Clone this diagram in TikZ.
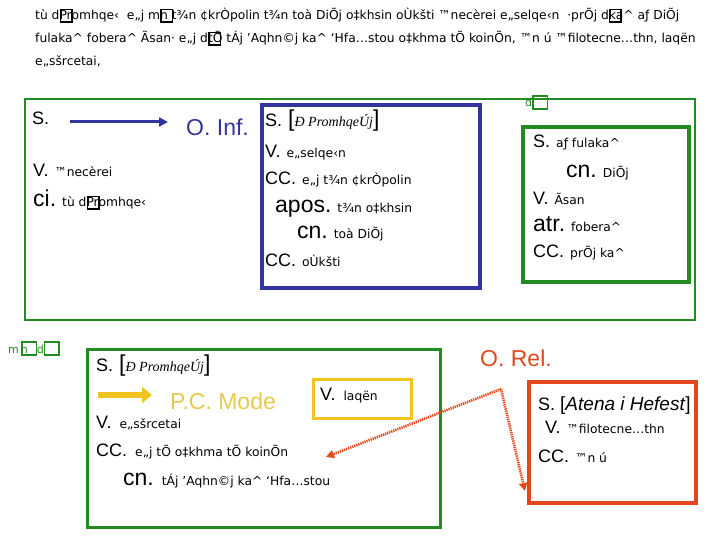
\documentclass[tikz,border=0pt]{standalone}
\usepackage{fontspec}
\setmainfont{DejaVu Sans}
\newfontfamily\labfont{Liberation Sans}
\newfontfamily\gkitfont{Liberation Serif}
\usetikzlibrary{arrows.meta}
\definecolor{grn}{HTML}{228B22}
\definecolor{blu}{HTML}{3434A0}
\definecolor{yel}{HTML}{F2C420}
\definecolor{yeltxt}{HTML}{E8C84A}
\definecolor{org}{HTML}{E2481C}
\newcommand\mylabA[1]{{\labfont\fontsize{18}{20}\selectfont #1}}
\newcommand\mylabB[1]{{\labfont\fontsize{23}{25}\selectfont #1}}
\newcommand\mygk[1]{{\fontsize{12.3}{14}\selectfont #1}}
\newcommand\mygkit[1]{{\gkitfont\itshape\fontsize{14}{15}\selectfont #1}}
\newcommand\ca{\textasciicircum}
\newcommand\tofu{\rlap{\raisebox{-1.5pt}{\setlength\fboxsep{0pt}\setlength\fboxrule{1.5pt}\fbox{\rule{0pt}{11pt}\hspace{10pt}}}}}
\newcommand\tofuB{\rlap{\raisebox{-1pt}{\setlength\fboxsep{0pt}\setlength\fboxrule{1.6pt}\fbox{\rule{0pt}{11pt}\hspace{13pt}}}}}
\tikzset{
  txt/.style={anchor=base west, inner sep=0pt, font=\fontsize{12.3}{14}\selectfont},
  box/.style={line width=#1},
}
\begin{document}
\begin{tikzpicture}[x=1pt,y=-1pt]
\useasboundingbox (0,0) rectangle (720,540);
% title
\node[txt] (t1) at (35,20) {tù d\tofu Promhqe‹\ \ e„j m\tofu n t¾n ¢krÒpolin t¾n toà DiÕj o‡khsin oÙkšti ™necèrei e„selqe‹n\ \ ·prÕj d\tofu ka\ca{}\ aƒ DiÕj};
\node[txt] (t2) at (35,43) {fulaka\ca{} fobera\ca{} Ãsan· e„j d\tofu tÕ tÁj 'Aqhn©j ka\ca{} `Hfa…stou o‡khma tÕ koinÕn, ™n ú ™filotecne…thn, laqën};
\node[txt] (t3) at (35,66) {e„sšrcetai,};

% big green box
\draw[grn, box=2.6pt] (25,99) rectangle (695,320);
\node[txt, text=grn, font=\fontsize{11}{12}\selectfont] (lbd) at (525,107) {d\tofuB};
\node[txt] (s1) at (32,125) {\mylabA{S.}};
\coordinate (a1s) at (70,122);
\coordinate (a1e) at (168,122);
\draw[blu, line width=3pt, -{Triangle[length=9pt,width=9pt]}] (a1s) -- (a1e);
\node[txt, text=blu] (oinf) at (186,136) {\mylabB{O. Inf.}};
\node[txt] (v1) at (33,177) {\mylabA{V.}\hspace{6pt}\mygk{™necèrei}};
\node[txt] (ci1) at (33,207) {\mylabB{ci.}\hspace{6pt}\mygk{tù d\tofu Promhqe‹}};

% blue box
\draw[blu, box=3.5pt] (262,105) rectangle (480,288);
\node[txt] (bs) at (265,127) {\mylabA{S.}\hspace{6pt}\mylabB{[}\mygkit{Ð PromhqeÚj}\mylabB{]}};
\node[txt] (bv) at (265,158) {\mylabA{V.}\hspace{6pt}\mygk{e„selqe‹n}};
\node[txt] (bcc) at (265,185) {\mylabA{CC.}\hspace{6pt}\mygk{e„j t¾n ¢krÒpolin}};
\node[txt] (bap) at (275,212) {\mylabB{apos.}\hspace{6pt}\mygk{t¾n o‡khsin}};
\node[txt] (bcn) at (297,238) {\mylabB{cn.}\hspace{6pt}\mygk{toà DiÕj}};
\node[txt] (bcc2) at (265,266) {\mylabA{CC.}\hspace{6pt}\mygk{oÙkšti}};

% inner green box (right)
\draw[grn, box=4pt] (523,127) rectangle (689,282);
\node[txt] (gs) at (533,148) {\mylabA{S.}\hspace{6pt}\mygk{aƒ fulaka\ca{}}};
\node[txt] (gcn) at (566,178) {\mylabB{cn.}\hspace{6pt}\mygk{DiÕj}};
\node[txt] (gv) at (533,205) {\mylabA{V.}\hspace{6pt}\mygk{Ãsan}};
\node[txt] (gatr) at (533,231) {\mylabB{atr.}\hspace{6pt}\mygk{fobera\ca{}}};
\node[txt] (gcc) at (533,257) {\mylabA{CC.}\hspace{6pt}\mygk{prÕj ka\ca{}}};

% bottom left label
\node[txt, text=grn, font=\fontsize{11}{12}\selectfont] (lbm) at (8,353) {m\hspace{2pt}\tofuB n\hspace{9pt}d\tofuB};

% bottom green box
\draw[grn, box=3pt] (87,349) rectangle (440,527);
\node[txt] (ls) at (96,371) {\mylabA{S.}\hspace{6pt}\mylabB{[}\mygkit{Ð PromhqeÚj}\mylabB{]}};
\coordinate (a2s) at (98,395);
\coordinate (a2e) at (152,395);
\draw[yel, line width=6pt, -{Triangle[length=10pt,width=16pt]}] (a2s) -- (a2e);
\node[txt, text=yeltxt] (pc) at (170,409) {\mylabB{P.C. Mode}};
\node[txt] (lv) at (96,428) {\mylabA{V.}\hspace{8pt}\mygk{e„sšrcetai}};
\node[txt] (lcc) at (96,456) {\mylabA{CC.}\hspace{8pt}\mygk{e„j tÕ o‡khma tÕ koinÕn}};
\node[txt] (lcn) at (123,485) {\mylabB{cn.}\hspace{8pt}\mygk{tÁj 'Aqhn©j ka\ca{} `Hfa…stou}};

% yellow box
\draw[yel, box=3pt] (313,379) rectangle (411,418);
\node[txt] (yv) at (320,400) {\mylabA{V.}\hspace{8pt}\mygk{laqën}};

% O. Rel.
\node[txt, text=org] (orel) at (480,366) {\mylabB{O. Rel.}};
\draw[org, box=4pt] (529,382) rectangle (696,503);
\node[txt] (os) at (538,410) {\mylabA{S.}\hspace{5pt}{\labfont\fontsize{19}{21}\selectfont[\textit{Atena i Hefest}]}};
\node[txt] (ov) at (545,433) {\mylabA{V.}\hspace{6pt}\mygk{™filotecne…thn}};
\node[txt] (occ) at (538,462) {\mylabA{CC.}\hspace{6pt}\mygk{™n ú}};

% dotted arrows
\coordinate (rs) at (501,389);
\coordinate (re1) at (326,457);
\coordinate (re2) at (525,491);
\draw[org, line width=2.6pt, dash pattern=on 1.3pt off 0.9pt, -{Triangle[length=8pt,width=8pt]}] (rs) -- (re1);
\draw[org, line width=2.6pt, dash pattern=on 1.3pt off 0.9pt, -{Triangle[length=8pt,width=8pt]}] (rs) -- (re2);
\end{tikzpicture}
\end{document}
